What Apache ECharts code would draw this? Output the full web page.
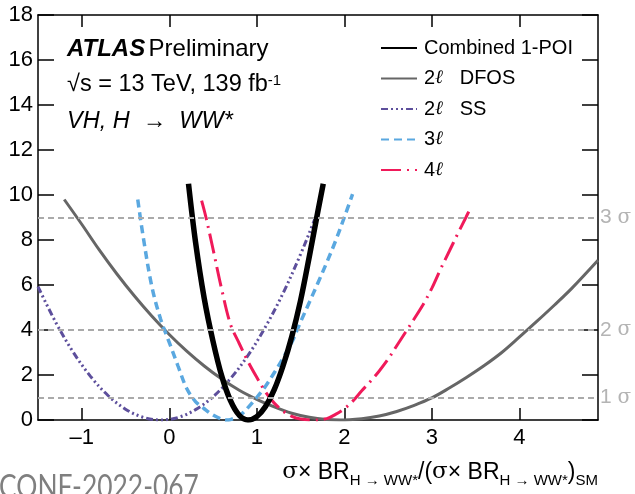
<!DOCTYPE html>
<html lang="en">
<head>
    <meta charset="UTF-8">
    <title>VH H->WW* likelihood scan</title>
    <script src="https://cdn.jsdelivr.net/npm/echarts@6/dist/echarts.min.js"></script>
    <style>
        html, body { margin: 0; padding: 0; background: #fff; }
    </style>
</head>
<body>
<div id="main" style="width: 635px;height:494px;"></div>
<script type="text/javascript">
    // values: mu on x, -2 ln Lambda on y
    var combX = [0.22, 0.3, 0.4, 0.5, 0.6, 0.7, 0.8, 0.9, 1.0, 1.1, 1.2, 1.3, 1.4, 1.5, 1.6, 1.7, 1.76];
    var combY = [10.5, 7.92, 5.4, 3.5, 1.95, 0.86, 0.21, 0.0, 0.15, 0.6, 1.35, 2.4, 3.7, 5.3, 7.25, 9.3, 10.5];

    var dfosX = [-1.2, -1.0, -0.8, -0.6, -0.4, -0.2, 0.0, 0.2, 0.4, 0.6, 0.8, 1.0, 1.2, 1.4, 1.6, 1.8, 1.95, 2.2, 2.4, 2.6, 2.8, 3.0, 3.2, 3.4, 3.6, 3.8, 4.0, 4.2, 4.4, 4.6, 4.9];
    var dfosY = [9.8, 8.7, 7.56, 6.5, 5.52, 4.62, 3.8, 3.06, 2.4, 1.82, 1.32, 0.92, 0.58, 0.3, 0.12, 0.02, 0.0, 0.06, 0.18, 0.38, 0.65, 0.98, 1.42, 1.9, 2.42, 3.0, 3.68, 4.38, 5.1, 5.85, 7.1];

    var ssX = [-1.5, -1.3, -1.1, -0.9, -0.7, -0.5, -0.3, -0.1, 0.1, 0.3, 0.5, 0.7, 0.9, 1.1, 1.3, 1.5, 1.66, 1.73];
    var ssY = [5.93, 4.36, 3.03, 1.94, 1.09, 0.48, 0.12, 0.0, 0.11, 0.46, 1.03, 1.84, 2.87, 4.14, 5.63, 7.36, 8.9, 9.62];

    var l3X = [-0.36, -0.3, -0.2, -0.1, 0.0, 0.1, 0.2, 0.3, 0.4, 0.5, 0.6, 0.65, 0.7, 0.8, 0.9, 1.0, 1.1, 1.2, 1.3, 1.4, 1.5, 1.6, 1.7, 1.8, 1.9, 2.0, 2.095];
    var l3Y = [9.8, 8.2, 5.95, 4.5, 3.45, 2.4, 1.4, 0.82, 0.5, 0.22, 0.04, 0.0, 0.02, 0.18, 0.55, 1.0, 1.5, 2.1, 2.75, 3.45, 4.35, 5.22, 6.1, 7.0, 7.95, 9.0, 10.04];

    var l4X = [0.37, 0.42, 0.5, 0.6, 0.7, 0.8, 0.9, 1.0, 1.1, 1.2, 1.3, 1.4, 1.5, 1.65, 1.8, 1.9, 2.0, 2.1, 2.2, 2.3, 2.4, 2.5, 2.6, 2.7, 2.8, 2.9, 3.0, 3.1, 3.2, 3.3, 3.39, 3.45];
    var l4Y = [9.75, 9.0, 7.6, 5.8, 4.25, 3.4, 2.6, 1.9, 1.25, 0.75, 0.4, 0.16, 0.04, 0.0, 0.06, 0.25, 0.5, 0.85, 1.3, 1.72, 2.18, 2.7, 3.3, 3.9, 4.5, 5.12, 5.85, 6.7, 7.5, 8.3, 9.0, 9.48];

    var sigmaLevels = [1, 4, 9];
    var sigmaLabels = ['1', '2', '3'];
    var xTicks = [-1, 0, 1, 2, 3, 4];

    function pairs(xs, ys) {
        var out = [];
        for (var i = 0; i < xs.length; i++) out.push([xs[i], ys[i]]);
        return out;
    }

    var font = 'Liberation Sans';
    var myChart = echarts.init(document.getElementById('main'));

    var sigmaLines = [];
    for (var i = 0; i < sigmaLevels.length; i++) {
        sigmaLines.push({ yAxis: sigmaLevels[i], label: { formatter: sigmaLabels[i] + ' {g|σ}' } });
    }

    function curve(name, xs, ys, color, width, dash) {
        return {
            name: name,
            type: 'line',
            data: pairs(xs, ys),
            smooth: 0.35,
            symbol: 'none',
            showSymbol: false,
            lineStyle: { color: color, width: width, type: dash },
            itemStyle: { color: color },
            z: 3
        };
    }

    var option = {
        animation: false,
        grid: { left: 38, right: 37, top: 15, bottom: 74, show: false },
        legend: {
            orient: 'vertical',
            left: 375,
            top: 33,
            itemWidth: 36,
            itemHeight: 14,
            itemGap: 10.5,
            itemStyle: { opacity: 0 },
            textStyle: { fontFamily: font, fontSize: 20, color: '#000', padding: [0, 0, 0, 2],
                rich: { l: { fontFamily: 'DejaVu Serif', fontStyle: 'italic', fontSize: 19 } } },
            formatter: function (name) { return name.replace('ℓ', '{l|ℓ}'); },
            data: ['Combined 1-POI', '2ℓ   DFOS', '2ℓ   SS', '3ℓ', '4ℓ']
        },
        xAxis: [{
            type: 'value',
            min: -1.5,
            max: 4.9,
            axisLine: { show: true, onZero: false, lineStyle: { color: '#000', width: 1.5 } },
            axisTick: { show: true, inside: true, length: 12, customValues: xTicks, lineStyle: { color: '#000', width: 1.5 } },
            axisLabel: { customValues: xTicks, fontFamily: font, fontSize: 22, color: '#000', margin: 7,
                formatter: function (v) { return v < 0 ? '\u2013' + Math.abs(v) : String(v); } },
            splitLine: { show: false }
        }, {
            type: 'value',
            position: 'top',
            min: -1.5,
            max: 4.9,
            axisLine: { show: true, onZero: false, lineStyle: { color: '#000', width: 1.5 } },
            axisTick: { show: true, inside: true, length: 12, customValues: xTicks, lineStyle: { color: '#000', width: 1.5 } },
            axisLabel: { show: false },
            splitLine: { show: false }
        }],
        yAxis: [{
            type: 'value',
            min: 0,
            max: 18,
            interval: 2,
            axisLine: { show: true, onZero: false, lineStyle: { color: '#000', width: 1.5 } },
            axisTick: { show: true, inside: true, length: 16, lineStyle: { color: '#000', width: 1.5 } },
            axisLabel: { fontFamily: font, fontSize: 22, color: '#000', margin: 5 },
            splitLine: { show: false }
        }, {
            type: 'value',
            position: 'right',
            min: 0,
            max: 18,
            interval: 2,
            axisLine: { show: true, onZero: false, lineStyle: { color: '#000', width: 1.5 } },
            axisTick: { show: true, inside: true, length: 16, lineStyle: { color: '#000', width: 1.5 } },
            axisLabel: { show: false },
            splitLine: { show: false }
        }],
        series: [
            {
                name: 'sigma',
                type: 'line',
                data: [],
                z: 1,
                markLine: {
                    silent: true,
                    symbol: 'none',
                    lineStyle: { color: '#aaaaaa', width: 2, type: [6, 4] },
                    label: { show: true, position: 'end', distance: 2, fontFamily: font, fontSize: 21, color: '#b4b4b4',
                        rich: { g: { fontFamily: 'DejaVu Serif', fontSize: 20, color: '#b4b4b4' } } },
                    data: sigmaLines
                }
            },
            curve('2ℓ   DFOS', dfosX, dfosY, '#666666', 3, 'solid'),
            curve('2ℓ   SS', ssX, ssY, '#5d4f9c', 3, [7, 3, 2, 3, 2, 3, 2, 3]),
            curve('3ℓ', l3X, l3Y, '#5aa8e0', 3.5, [8, 5]),
            curve('4ℓ', l4X, l4Y, '#f01a5a', 3, [20, 6, 2, 6]),
            curve('Combined 1-POI', combX, combY, '#000000', 5.5, 'solid')
        ],
        graphic: [
            {
                type: 'text', left: 67, top: 37,
                style: {
                    text: '{b|ATLAS} {r|Preliminary}',
                    rich: {
                        b: { fontFamily: font, fontSize: 24, fontWeight: 'bold', fontStyle: 'italic', fill: '#000' },
                        r: { fontFamily: font, fontSize: 24, fill: '#000' }
                    }
                }
            },
            {
                type: 'text', left: 67, top: 73,
                style: {
                    text: '√s = 13 TeV, 139 fb{s|-1}',
                    fontFamily: font, fontSize: 23.5, fill: '#000',
                    rich: { s: { fontFamily: font, fontSize: 15, verticalAlign: 'top', lineHeight: 15, padding: [0, 0, 12, 0] } }
                }
            },
            {
                type: 'text', left: 67, top: 110,
                style: { text: 'VH, H  →  WW*', fontFamily: font, fontSize: 23.5, fontStyle: 'italic', fill: '#000' }
            },
            {
                type: 'text', right: 37, top: 461,
                style: {
                    text: '{g|σ}× BR{s|H → WW*}/({g|σ}× BR{s|H → WW*}){s|SM}',
                    fontFamily: font, fontSize: 23, fill: '#000',
                    rich: {
                        g: { fontFamily: 'DejaVu Serif', fontSize: 23 },
                        s: { fontFamily: font, fontSize: 15, padding: [16, 0, 0, 0] }
                    }
                }
            },
            {
                type: 'text', left: -1, top: 471, scaleX: 0.8,
                style: { text: 'CONF-2022-067', fontFamily: 'Lato', fontSize: 33, fill: '#7f7f7f' }
            }
        ]
    };

    myChart.setOption(option);
</script>
</body>
</html>
